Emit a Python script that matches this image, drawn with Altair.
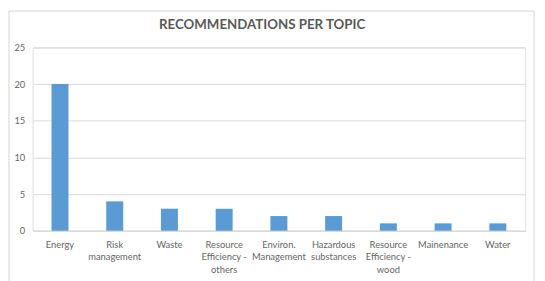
import json
import altair as alt
import pandas as pd

title_text = "RECOMMENDATIONS PER TOPIC"
topics = ["Energy", "Risk management", "Waste", "Resource Efficiency - others",
          "Environ. Management", "Hazardous substances", "Resource Efficiency - wood",
          "Mainenance", "Water"]
counts = [20, 4, 3, 3, 2, 2, 1, 1, 1]
label_lines = {
    "Energy": ["Energy"],
    "Risk management": ["Risk", "management"],
    "Waste": ["Waste"],
    "Resource Efficiency - others": ["Resource", "Efficiency -", "others"],
    "Environ. Management": ["Environ.", "Management"],
    "Hazardous substances": ["Hazardous", "substances"],
    "Resource Efficiency - wood": ["Resource", "Efficiency -", "wood"],
    "Mainenance": ["Mainenance"],
    "Water": ["Water"],
}
y_ticks = [0, 5, 10, 15, 20, 25]

df = pd.DataFrame({"topic": topics, "count": counts})
FONT = "Lato"
GRAY = "#666666"

label_expr = json.dumps(label_lines) + "[datum.value]"

bars = alt.Chart(df).mark_bar(color="#5B9BD5").encode(
    x=alt.X("topic:N", sort=topics,
            scale=alt.Scale(paddingInner=0.69, paddingOuter=0.345),
            axis=alt.Axis(title=None, labelAngle=0, labelExpr=label_expr,
                          ticks=False, domain=True, domainColor="#d9d9d9",
                          labelColor=GRAY, labelFont=FONT, labelFontSize=9.5,
                          labelPadding=9, labelLineHeight=12.5, labelBaseline="top")),
    y=alt.Y("count:Q", scale=alt.Scale(domain=[0, 25], nice=False),
            axis=alt.Axis(title=None, values=y_ticks, ticks=False, domain=False,
                          gridColor="#d9d9d9", labelColor=GRAY, labelFont=FONT,
                          labelFontSize=9.5, labelPadding=8)),
)

one = pd.DataFrame({"t": [title_text]})

frame = alt.Chart(one).mark_rect(fill=None, stroke="#d4d4d4", strokeWidth=1).encode(
    x=alt.value(-24), x2=alt.value(509), y=alt.value(-37), y2=alt.value(260)
)

title = alt.Chart(one).mark_text(font=FONT, fontSize=13.5, fontWeight="bold",
                                 color="#595959", align="center",
                                 baseline="middle").encode(
    text="t:N", x=alt.value(233), y=alt.value(-23)
)

chart = alt.layer(frame, title, bars).properties(
    width=500, height=186,
    autosize=alt.AutoSizeParams(type="none"),
    padding={"left": 25, "top": 38, "right": 12, "bottom": 50},
).configure_view(stroke=None).configure(background="white")

chart.save("out.html", embed_options={"renderer": "svg", "actions": False})
